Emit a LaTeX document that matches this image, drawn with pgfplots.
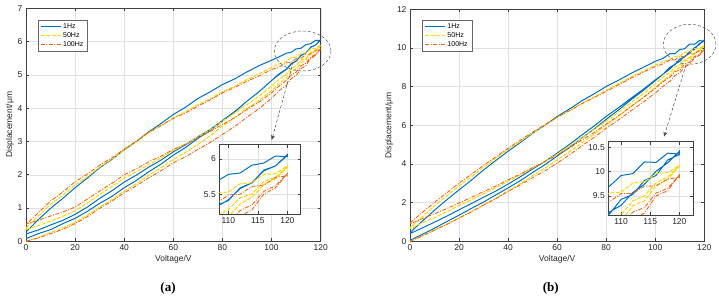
\documentclass[border=0pt]{standalone}
\usepackage{pgfplots}
\pgfplotsset{compat=1.18}
\usepackage{pgfplotstable}
\usepackage{fontspec}
\setmainfont{Liberation Sans}
\newfontfamily\capfont{Liberation Serif}
\usetikzlibrary{arrows.meta}
\definecolor{mblue}{rgb}{0,0.447,0.741}
\definecolor{myel}{rgb}{1,0.84,0.0}
\definecolor{moran}{rgb}{0.93,0.40,0.10}

% ---------- panel (a) ----------
\pgfplotstableread{
V D
0 0.08
5 0.23
10 0.35
15 0.53
20 0.69
25 0.90
30 1.14
35 1.35
40 1.61
45 1.83
50 2.09
55 2.32
60 2.59
65 2.82
70 3.09
75 3.33
80 3.61
85 3.89
90 4.21
95 4.50
100 4.83
103 5.03
106 5.17
108 5.34
110 5.41
112 5.59
114 5.66
116 5.84
118 5.90
120 6.06
120 6.03
118 6.04
116 5.94
114 5.91
112 5.80
110 5.78
108 5.68
106 5.65
103 5.54
100 5.44
95 5.28
90 5.09
85 4.88
80 4.71
75 4.49
70 4.29
65 4.03
60 3.81
55 3.54
50 3.29
45 3.00
40 2.75
35 2.46
30 2.21
25 1.90
20 1.61
15 1.29
10 0.99
5 0.65
0 0.28
0 0.22
5 0.34
10 0.49
15 0.63
20 0.81
25 1.03
30 1.29
35 1.52
40 1.78
45 1.99
50 2.23
55 2.44
60 2.69
65 2.90
70 3.14
75 3.36
80 3.63
85 3.90
90 4.21
95 4.50
100 4.83
103 5.01
106 5.16
108 5.32
110 5.42
112 5.58
114 5.66
116 5.83
118 5.90
120 6.05
}\aBlue
\pgfplotstableread{
V D
0 0.00
5 0.12
10 0.26
15 0.40
20 0.57
25 0.79
30 1.03
35 1.25
40 1.51
45 1.73
50 1.99
55 2.21
60 2.46
65 2.67
70 2.91
75 3.17
80 3.46
85 3.71
90 3.99
95 4.24
100 4.53
103 4.73
106 4.91
108 5.09
110 5.18
112 5.36
114 5.46
116 5.63
118 5.72
120 5.88
120 5.90
118 5.79
116 5.78
114 5.66
112 5.65
110 5.53
108 5.52
106 5.40
103 5.33
100 5.22
95 5.04
90 4.86
85 4.66
80 4.49
75 4.28
70 4.11
65 3.89
60 3.71
55 3.47
50 3.26
45 2.99
40 2.74
35 2.47
30 2.23
25 1.94
20 1.69
15 1.38
10 1.11
5 0.76
0 0.40
0 0.36
5 0.47
10 0.61
15 0.75
20 0.92
25 1.15
30 1.41
35 1.64
40 1.90
45 2.09
50 2.31
55 2.50
60 2.73
65 2.92
70 3.13
75 3.35
80 3.61
85 3.85
90 4.11
95 4.37
100 4.66
103 4.86
106 5.02
108 5.19
110 5.28
112 5.45
114 5.50
116 5.68
118 5.74
120 5.89
}\aYel
\pgfplotstableread{
V D
0 0.00
5 0.10
10 0.23
15 0.36
20 0.53
25 0.74
30 0.99
35 1.21
40 1.46
45 1.67
50 1.91
55 2.12
60 2.36
65 2.54
70 2.76
75 2.97
80 3.21
85 3.45
90 3.73
95 3.99
100 4.30
103 4.52
106 4.69
108 4.89
110 4.98
112 5.19
114 5.28
116 5.50
118 5.59
120 5.79
120 5.76
118 5.74
116 5.63
114 5.61
112 5.50
110 5.49
108 5.37
106 5.36
103 5.23
100 5.16
95 4.97
90 4.81
85 4.62
80 4.46
75 4.25
70 4.06
65 3.86
60 3.69
55 3.48
50 3.28
45 3.01
40 2.77
35 2.51
30 2.29
25 2.02
20 1.79
15 1.48
10 1.21
5 0.86
0 0.50
0 0.52
5 0.63
10 0.76
15 0.88
20 1.03
25 1.27
30 1.51
35 1.74
40 2.00
45 2.18
50 2.39
55 2.56
60 2.76
65 2.92
70 3.11
75 3.30
80 3.51
85 3.72
90 3.96
95 4.19
100 4.46
103 4.66
106 4.83
108 5.00
110 5.08
112 5.27
114 5.35
116 5.54
118 5.62
120 5.79
}\aOra

% ---------- panel (b) ----------
\pgfplotstableread{
V D
0 0.05
5 0.36
10 0.68
15 1.02
20 1.35
25 1.70
30 2.03
35 2.40
40 2.76
45 3.14
50 3.56
55 3.96
60 4.41
65 4.85
70 5.34
75 5.80
80 6.31
85 6.79
90 7.31
95 7.79
100 8.31
103 8.63
106 8.91
108 9.17
110 9.31
112 9.57
114 9.74
116 10.01
118 10.18
120 10.42
120 10.36
118 10.38
116 10.19
114 10.20
112 9.96
110 9.92
108 9.70
106 9.71
103 9.45
100 9.31
95 8.99
90 8.68
85 8.33
80 8.01
75 7.62
70 7.26
65 6.84
60 6.46
55 6.00
50 5.59
45 5.11
40 4.66
35 4.18
30 3.69
25 3.16
20 2.66
15 2.15
10 1.61
5 1.04
0 0.45
0 0.40
5 0.69
10 0.99
15 1.30
20 1.63
25 1.95
30 2.28
35 2.60
40 2.96
45 3.34
50 3.74
55 4.13
60 4.56
65 5.01
70 5.49
75 5.96
80 6.46
85 6.91
90 7.39
95 7.85
100 8.35
103 8.62
106 9.01
108 9.13
110 9.43
112 9.53
114 9.82
116 9.92
118 10.24
120 10.35
}\bBlue
\pgfplotstableread{
V D
0 0.00
5 0.28
10 0.59
15 0.88
20 1.21
25 1.53
30 1.89
35 2.23
40 2.61
45 2.98
50 3.39
55 3.78
60 4.21
65 4.63
70 5.09
75 5.53
80 6.01
85 6.47
90 6.96
95 7.43
100 7.96
103 8.29
106 8.57
108 8.86
110 8.98
112 9.30
114 9.40
116 9.71
118 9.84
120 10.12
120 10.13
118 9.98
116 9.96
114 9.79
112 9.77
110 9.58
108 9.56
106 9.40
103 9.29
100 9.11
95 8.80
90 8.49
85 8.15
80 7.81
75 7.46
70 7.13
65 6.75
60 6.41
55 6.00
50 5.61
45 5.17
40 4.76
35 4.29
30 3.83
25 3.33
20 2.86
15 2.35
10 1.83
5 1.27
0 0.70
0 0.65
5 0.95
10 1.23
15 1.53
20 1.86
25 2.15
30 2.46
35 2.77
40 3.11
45 3.44
50 3.79
55 4.14
60 4.51
65 4.92
70 5.34
75 5.78
80 6.21
85 6.68
90 7.15
95 7.63
100 8.15
103 8.48
106 8.74
108 9.01
110 9.12
112 9.40
114 9.50
116 9.77
118 9.89
120 10.12
}\bYel
\pgfplotstableread{
V D
0 0.00
5 0.27
10 0.58
15 0.87
20 1.20
25 1.52
30 1.87
35 2.21
40 2.58
45 2.92
50 3.29
55 3.64
60 4.04
65 4.47
70 4.93
75 5.37
80 5.85
85 6.28
90 6.74
95 7.19
100 7.67
103 8.00
106 8.28
108 8.57
110 8.71
112 9.03
114 9.15
116 9.50
118 9.61
120 9.93
120 9.88
118 9.85
116 9.71
114 9.70
112 9.55
110 9.55
108 9.38
106 9.37
103 9.17
100 9.04
95 8.74
90 8.43
85 8.09
80 7.76
75 7.43
70 7.11
65 6.76
60 6.41
55 6.03
50 5.64
45 5.23
40 4.81
35 4.37
30 3.93
25 3.47
20 3.01
15 2.51
10 2.01
5 1.49
0 0.95
0 0.90
5 1.17
10 1.43
15 1.69
20 1.98
25 2.27
30 2.57
35 2.86
40 3.18
45 3.48
50 3.81
55 4.12
60 4.46
65 4.83
70 5.23
75 5.62
80 6.06
85 6.50
90 6.96
95 7.42
100 7.91
103 8.24
106 8.49
108 8.77
110 8.86
112 9.17
114 9.26
116 9.56
118 9.66
120 9.93
}\bOra

\pgfplotsset{
  mstyle/.style={
    scale only axis, anchor=south west,
    /pgf/number format/assume math mode=true,
    tick label style={font=\fontsize{8.5}{9}\selectfont, text=black!85},
    label style={font=\fontsize{8.5}{9}\selectfont, text=black!85},
    axis line style={black!75, line width=0.5pt},
    tick style={black!75, line width=0.5pt},
    tick align=inside, major tick length=3pt,
    grid=major, major grid style={black!12, line width=0.4pt},
    axis background/.style={fill=white},
  },
  s1/.style={mblue, line width=1pt},
  s2/.style={myel, line width=1pt, dash pattern=on 4pt off 1.5pt},
  s3/.style={moran, line width=0.9pt, dash pattern=on 4pt off 1.5pt on 1pt off 1.5pt},
  lstyle/.style={legend style={font=\fontsize{7}{8}\selectfont, draw=black!60, line width=0.4pt,
      cells={anchor=west}, row sep=-1.5pt, inner xsep=2pt, inner ysep=1.5pt},
      legend image code/.code={\draw[##1] (0cm,0cm) -- (0.7cm,0cm);}},
}

\begin{document}
\begin{tikzpicture}
\useasboundingbox (0,0) rectangle (719pt,300pt);

% ===== (a) main =====
\begin{axis}[mstyle, lstyle, at={(26pt,58.7pt)}, width=294.7pt, height=233pt,
  xmin=0, xmax=120, ymin=0, ymax=7, xtick={0,20,...,120}, ytick={0,1,...,7},
  xlabel={Voltage/V}, ylabel={Displacement/μm},
  xlabel style={yshift=2pt}, ylabel style={yshift=-3pt},
  legend style={at={(0.041,0.95)}, anchor=north west}]
\addplot[s1] table[x=V,y=D] {\aBlue};
\addplot[s2] table[x=V,y=D] {\aYel};
\addplot[s3] table[x=V,y=D] {\aOra};
\legend{1Hz,50Hz,100Hz}
\end{axis}

% ===== (a) inset =====
\begin{axis}[mstyle, at={(219.3pt,86pt)}, width=81.4pt, height=69.3pt,
  xmin=108.47, xmax=122.26, ymin=5.22, ymax=6.2,
  xtick={110,115,120}, ytick={5.5,6}]
\addplot[s1] table[x=V,y=D] {\aBlue};
\addplot[s2] table[x=V,y=D] {\aYel};
\addplot[s3] table[x=V,y=D] {\aOra};
\end{axis}

% ===== (b) main =====
\begin{axis}[mstyle, lstyle, at={(410pt,58.7pt)}, width=294.3pt, height=232pt,
  xmin=0, xmax=120, ymin=0, ymax=12, xtick={0,20,...,120}, ytick={0,2,...,12},
  xlabel={Voltage/V}, ylabel={Displacement/μm},
  xlabel style={yshift=2pt}, ylabel style={yshift=-3pt},
  legend style={at={(0.042,0.954)}, anchor=north west}]
\addplot[s1] table[x=V,y=D] {\bBlue};
\addplot[s2] table[x=V,y=D] {\bYel};
\addplot[s3] table[x=V,y=D] {\bOra};
\legend{1Hz,50Hz,100Hz}
\end{axis}

% ===== (b) inset =====
\begin{axis}[mstyle, at={(608.3pt,85pt)}, width=85pt, height=73.3pt,
  xmin=107.8, xmax=122.4, ymin=9.11, ymax=10.615,
  xtick={110,115,120}, ytick={9.5,10,10.5}]
\addplot[s1] table[x=V,y=D] {\bBlue};
\addplot[s2] table[x=V,y=D] {\bYel};
\addplot[s3] table[x=V,y=D] {\bOra};
\end{axis}

% annotations
\draw[black!65, line width=0.5pt, dash pattern=on 3pt off 2pt] (302.7pt,249pt) ellipse [x radius=28.3pt, y radius=20pt];
\draw[black!70, line width=0.5pt, dash pattern=on 3pt off 2pt, -{Stealth[length=5pt,width=4pt]}] (293.3pt,238.3pt) -- (271.7pt,160pt);
\draw[black!65, line width=0.5pt, dash pattern=on 3pt off 2pt] (689.7pt,255.7pt) ellipse [x radius=26.3pt, y radius=20pt];
\draw[black!70, line width=0.5pt, dash pattern=on 3pt off 2pt, -{Stealth[length=5pt,width=4pt]}] (686pt,235pt) -- (664pt,163.3pt);

\node[font=\capfont\bfseries\fontsize{13}{15}\selectfont] at (168pt,12pt) {(a)};
\node[font=\capfont\bfseries\fontsize{13}{15}\selectfont] at (550.7pt,12pt) {(b)};
\end{tikzpicture}
\end{document}
